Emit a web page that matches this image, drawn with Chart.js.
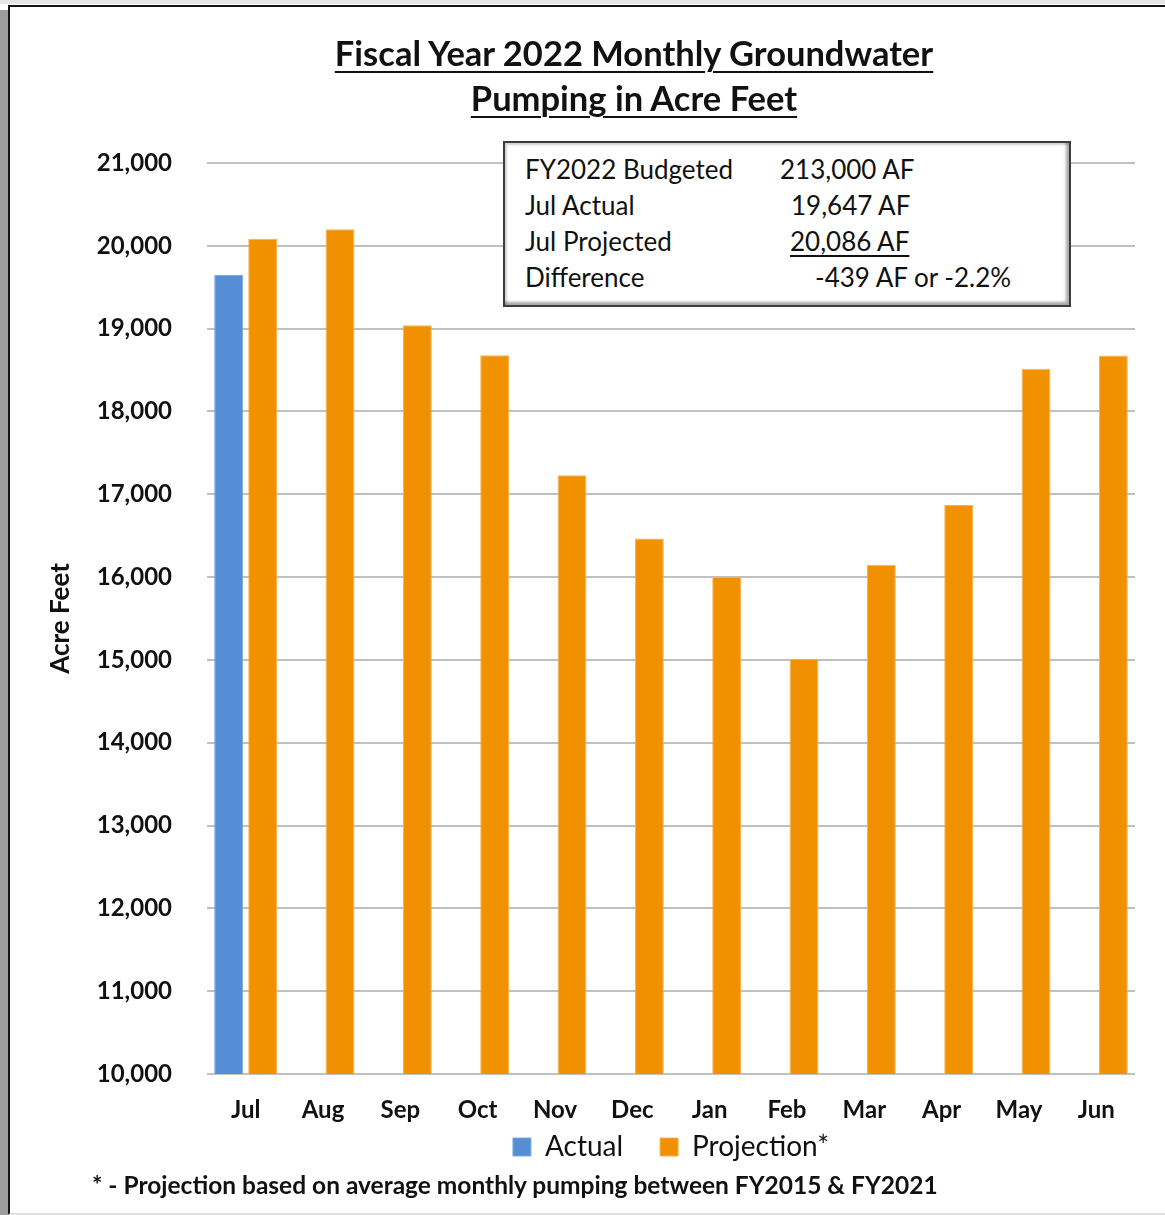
<!DOCTYPE html>
<html>
<head>
<meta charset="utf-8">
<script src="https://cdn.jsdelivr.net/npm/chart.js@4.4.0/dist/chart.umd.min.js"></script>
<style>
  body { margin: 0; background: #fff; font-family: Lato, "Open Sans", sans-serif; }
  #page { position: relative; width: 1165px; height: 1215px; overflow: hidden; background: #fff; }
  #shade { position: absolute; left: 0; top: 10px; width: 8px; height: 1205px; background: #9c9c9c; }
  #topshade { position: absolute; left: 0; top: 0; width: 1165px; height: 4px; background: #e6e6e6; }
  #frame { position: absolute; left: 8px; top: 5px; width: 1165px; height: 1206px; border-top: 2px solid #151515; border-left: 2px solid #151515; border-bottom: 2px solid #e0e0e0; background: #fff; }
  #wrap { position: absolute; left: 0; top: 0; width: 1165px; height: 1215px; }
  .title { position: absolute; left: 0; width: 1268px; text-align: center; font-weight: 700; font-size: 34.5px; color: #111; text-decoration: underline; text-decoration-thickness: 2px; text-underline-offset: 5px; }
  #box { position: absolute; left: 503px; top: 141px; width: 564px; height: 162px; border: 2px solid #3c3c3c; background: #fff;
         box-shadow: inset -3px -3px 3px rgba(0,0,0,0.35), inset 2px 2px 2px rgba(0,0,0,0.18); font-size: 26px; color: #111; }
  #box span { position: absolute; white-space: nowrap; line-height: 36px; }
  #note { position: absolute; left: 92px; top: 1170px; font-weight: 700; font-size: 24.5px; color: #111; white-space: nowrap; }
</style>
</head>
<body>
<div id="page">
  <div id="topshade"></div>
  <div id="shade"></div>
  <div id="frame"></div>
  <div id="wrap"><canvas id="chart"></canvas></div>
  <div class="title" style="top:32px;">Fiscal Year 2022 Monthly Groundwater</div>
  <div class="title" style="top:77px;">Pumping in Acre Feet</div>
  <div id="box">
    <span style="left:20px; top:8px;">FY2022 Budgeted</span>
    <span style="left:275px; top:8px;">213,000 AF</span>
    <span style="left:20px; top:44px;">Jul Actual</span>
    <span style="left:286px; top:44px;">19,647 AF</span>
    <span style="left:20px; top:80px;">Jul Projected</span>
    <span style="left:285px; top:80px; text-decoration: underline; text-underline-offset: 4px;">20,086 AF</span>
    <span style="left:20px; top:116px;">Difference</span>
    <span style="left:310px; top:116px;">-439 AF or -2.2%</span>
  </div>
  <div id="note">* - Projection based on average monthly pumping between FY2015 &amp; FY2021</div>
</div>
<script>
const months = ['Jul', 'Aug', 'Sep', 'Oct', 'Nov', 'Dec', 'Jan', 'Feb', 'Mar', 'Apr', 'May', 'Jun'];
const actual = [19647, null, null, null, null, null, null, null, null, null, null, null];
const projection = [20086, 20200, 19040, 18680, 17230, 16465, 16000, 15010, 16150, 16870, 18515, 18675];
const yMin = 10000;
const yMax = 21000;
const yStep = 1000;

const ctx = document.getElementById('chart');

new Chart(ctx, {
    type: 'bar',
    data: {
        labels: months,
        datasets: [{
            label: 'Actual',
            data: actual,
            backgroundColor: '#558ED5',
            borderColor: '#7FAAE0',
            borderWidth: 1,
        }, {
            label: 'Projection*',
            data: projection,
            backgroundColor: '#F29100',
            borderColor: '#F7B24F',
            borderWidth: 1,
        }],
    },
    options: {
        responsive: true,
        maintainAspectRatio: false,
        animation: false,
        categoryPercentage: 0.88,
        barPercentage: 0.85,
        layout: { padding: { top: 163, right: 30, left: 0, bottom: 44 } },
        plugins: {
            tooltip: { enabled: false },
            legend: {
                position: 'bottom',
                fullSize: false,
                labels: {
                    color: '#111',
                    font: { family: 'Lato', size: 28 },
                    boxWidth: 18,
                    boxHeight: 18,
                    padding: 37,
                },
            },
        },
        scales: {
            x: {
                grid: { display: false, drawTicks: false },
                border: { display: false },
                // mirrored labels are not clipped to the (short) axis box
                ticks: { mirror: true, color: '#111', font: { family: 'Lato', size: 24, weight: 'bold' }, padding: -51 },
                afterFit: (s) => { s.height = 22; },
            },
            y: {
                min: yMin,
                max: yMax,
                border: { display: false },
                grid: { color: '#C0C0C0', lineWidth: 2, drawTicks: false },
                ticks: {
                    stepSize: yStep,
                    color: '#111',
                    padding: 35,
                    font: { family: 'Lato', size: 24, weight: 'bold' },
                    callback: (v) => v.toLocaleString('en-US'),
                },
                title: {
                    display: true,
                    text: 'Acre Feet',
                    color: '#111',
                    font: { family: 'Lato', size: 26, weight: 'bold' },
                    padding: { top: 45, bottom: 0 },
                },
                afterFit: (s) => { s.width = 207; },
            },
        },
    },
});
</script>
</body>
</html>
